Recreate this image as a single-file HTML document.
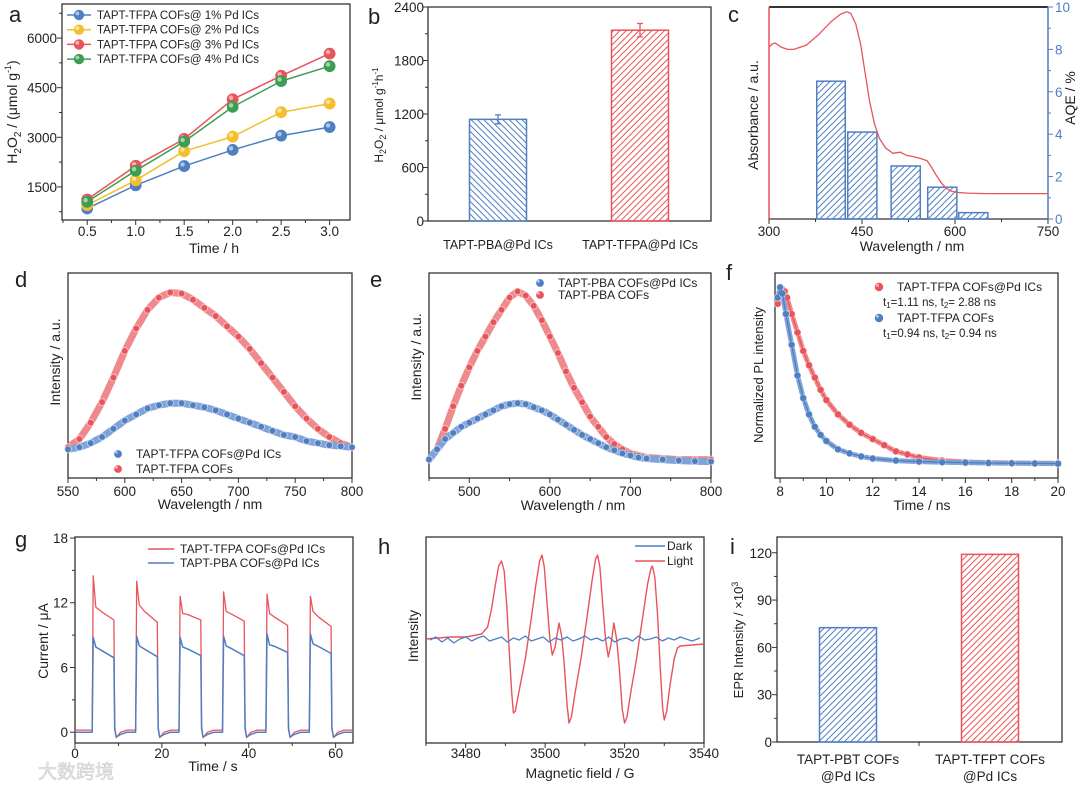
<!DOCTYPE html>
<html><head><meta charset="utf-8">
<style>
html,body{margin:0;padding:0;background:#fff;}
svg{display:block;font-family:"Liberation Sans","Noto Sans CJK SC",sans-serif;}
</style></head>
<body>
<svg id="fig" width="1080" height="786" viewBox="0 0 1080 786" xmlns="http://www.w3.org/2000/svg">
<defs>
<pattern id="hbR" width="4.5" height="4.5" patternUnits="userSpaceOnUse" patternTransform="rotate(45)"><line x1="1" y1="0" x2="1" y2="4.5" stroke="#4f7fc2" stroke-width="1"/></pattern>
<pattern id="hbL" width="4.5" height="4.5" patternUnits="userSpaceOnUse" patternTransform="rotate(-45)"><line x1="1" y1="0" x2="1" y2="4.5" stroke="#4f7fc2" stroke-width="1"/></pattern>
<pattern id="hrR" width="4.5" height="4.5" patternUnits="userSpaceOnUse" patternTransform="rotate(45)"><line x1="1" y1="0" x2="1" y2="4.5" stroke="#e8545a" stroke-width="1"/></pattern>
</defs>
<rect width="1080" height="786" fill="#fff"/>

<g fill="#222" font-size="14">
<text x="9" y="22" font-size="22">a</text>
<text transform="translate(17,112) rotate(-90)" text-anchor="middle">H<tspan font-size="10" dy="4">2</tspan><tspan dy="-4">O</tspan><tspan font-size="10" dy="4">2</tspan><tspan dy="-4"> / (μmol g</tspan><tspan font-size="9" dy="-6">-1</tspan><tspan dy="6">)</tspan></text>
<text x="214" y="253" text-anchor="middle">Time / h</text>

<text x="368" y="24" font-size="22">b</text>
<text transform="translate(383,115) rotate(-90)" text-anchor="middle" font-size="12">H<tspan font-size="9" dy="3">2</tspan><tspan dy="-3">O</tspan><tspan font-size="9" dy="3">2</tspan><tspan dy="-3"> / μmol g</tspan><tspan font-size="8" dy="-5">-1</tspan><tspan dy="5">h</tspan><tspan font-size="8" dy="-5">-1</tspan></text>
<text x="498" y="249" text-anchor="middle" font-size="12.5">TAPT-PBA@Pd ICs</text>
<text x="640" y="249" text-anchor="middle" font-size="12.5">TAPT-TFPA@Pd ICs</text>

<text x="728" y="22" font-size="22">c</text>
<text transform="translate(758,115) rotate(-90)" text-anchor="middle">Absorbance / a.u.</text>
<text transform="translate(1075,98) rotate(-90)" text-anchor="middle">AQE / %</text>
<text x="912" y="251" text-anchor="middle">Wavelength / nm</text>

<text x="15" y="287" font-size="22">d</text>
<text transform="translate(60,362) rotate(-90)" text-anchor="middle">Intensity  / a.u.</text>
<text x="210" y="509" text-anchor="middle">Wavelength / nm</text>
<text x="136" y="458" font-size="12">TAPT-TFPA COFs@Pd ICs</text>
<text x="136" y="473" font-size="12">TAPT-TFPA COFs</text>

<text x="370" y="287" font-size="22">e</text>
<text transform="translate(421,357) rotate(-90)" text-anchor="middle">Intensity  / a.u.</text>
<text x="573" y="510" text-anchor="middle">Wavelength / nm</text>
<text x="558" y="287" font-size="12">TAPT-PBA COFs@Pd ICs</text>
<text x="558" y="299" font-size="12">TAPT-PBA COFs</text>

<text x="726" y="280" font-size="22">f</text>
<text transform="translate(763,375) rotate(-90)" text-anchor="middle" font-size="13">Normalized PL intensity</text>
<text x="922" y="510" text-anchor="middle">Time / ns</text>
<text x="897" y="291" font-size="12">TAPT-TFPA COFs@Pd ICs</text>
<text x="883" y="306" font-size="11.5">t<tspan font-size="8" dy="2">1</tspan><tspan dy="-2">=1.11 ns, t</tspan><tspan font-size="8" dy="2">2</tspan><tspan dy="-2">= 2.88 ns</tspan></text>
<text x="897" y="322" font-size="12">TAPT-TFPA COFs</text>
<text x="883" y="337" font-size="11.5">t<tspan font-size="8" dy="2">1</tspan><tspan dy="-2">=0.94 ns, t</tspan><tspan font-size="8" dy="2">2</tspan><tspan dy="-2">= 0.94 ns</tspan></text>

<text x="15" y="547" font-size="22">g</text>
<text transform="translate(48,641) rotate(-90)" text-anchor="middle">Current / μA</text>
<text x="213" y="771" text-anchor="middle">Time / s</text>
<text x="180" y="553" font-size="12">TAPT-TFPA COFs@Pd ICs</text>
<text x="180" y="567" font-size="12">TAPT-PBA COFs@Pd ICs</text>

<text x="378" y="554" font-size="22">h</text>
<text transform="translate(418,636) rotate(-90)" text-anchor="middle">Intensity</text>
<text x="580" y="778" text-anchor="middle">Magnetic field / G</text>
<text x="667" y="550" font-size="12">Dark</text>
<text x="667" y="565" font-size="12">Light</text>

<text x="730" y="554" font-size="22">i</text>
<text transform="translate(743,640) rotate(-90)" text-anchor="middle" font-size="13">EPR Intensity / ×10<tspan font-size="9" dy="-5">3</tspan></text>
<text x="848" y="764" text-anchor="middle" font-size="13.5">TAPT-PBT COFs</text>
<text x="848" y="781" text-anchor="middle" font-size="13.5">@Pd ICs</text>
<text x="990" y="764" text-anchor="middle" font-size="13.5">TAPT-TFPT COFs</text>
<text x="990" y="781" text-anchor="middle" font-size="13.5">@Pd ICs</text>
</g>
<text x="38" y="778" font-size="19" fill="#e4e4e4" stroke="#cfcfcf" stroke-width="0.6">大数跨境</text>

<script>
const aTime=[0.5,1.0,1.5,2.0,2.5,3.0];
const a1pct=[850,1550,2130,2620,3050,3310];
const a2pct=[950,1700,2580,3020,3760,4020];
const a3pct=[1120,2140,2950,4150,4860,5530];
const a4pct=[1050,1990,2870,3920,4700,5150];
const aYTicks=[1500,3000,4500,6000];
const aXTicks=[0.5,1.0,1.5,2.0,2.5,3.0];

const bCats=['TAPT-PBA@Pd ICs','TAPT-TFPA@Pd ICs'];
const bVals=[1140,2140];
const bErr=[50,75];
const bYTicks=[0,600,1200,1800,2400];

const cBarLo=[377,427,497,556,606];
const cBarHi=[423,474,544,603,653];
const cAQE=[6.5,4.1,2.5,1.5,0.3];
const cAbsWl=[300,305,310,320,330,340,360,380,400,415,425,432,440,448,455,462,470,478,488,500,512,522,532,545,555,562,570,578,586,595,605,620,650,700,750];
const cAbsVal=[8.1,8.25,8.3,8.1,8.0,8.0,8.2,8.7,9.3,9.65,9.78,9.7,9.2,8.2,6.9,5.6,4.5,3.8,3.35,3.1,3.15,3.0,2.95,2.85,2.75,2.45,2.05,1.7,1.45,1.3,1.25,1.22,1.2,1.2,1.2];
const cXTicks=[300,450,600,750];
const cYTicks=[0,2,4,6,8,10];

const dWl=[550,560,570,580,590,600,610,620,630,640,650,660,670,680,690,700,710,720,730,740,750,760,770,780,790,800];
const dCof=[0.15,0.19,0.27,0.37,0.49,0.62,0.73,0.82,0.88,0.905,0.9,0.87,0.83,0.79,0.74,0.69,0.63,0.56,0.49,0.42,0.35,0.29,0.24,0.2,0.17,0.15];
const dPd=[0.14,0.15,0.17,0.2,0.24,0.28,0.31,0.34,0.355,0.365,0.365,0.355,0.345,0.33,0.31,0.29,0.27,0.25,0.23,0.21,0.2,0.18,0.17,0.16,0.155,0.15];
const dXTicks=[550,600,650,700,750,800];

const eWl=[450,460,470,480,490,500,510,520,530,540,550,560,570,580,590,600,610,620,630,640,650,660,670,680,690,700,710,720,740,760,780,800];
const eCof=[0.09,0.14,0.24,0.35,0.45,0.54,0.62,0.69,0.76,0.82,0.88,0.91,0.89,0.84,0.77,0.69,0.61,0.52,0.44,0.37,0.3,0.25,0.2,0.165,0.14,0.12,0.11,0.1,0.095,0.09,0.09,0.09];
const ePd=[0.09,0.14,0.19,0.22,0.25,0.27,0.29,0.31,0.33,0.35,0.36,0.365,0.36,0.345,0.33,0.31,0.285,0.26,0.235,0.21,0.19,0.17,0.15,0.135,0.12,0.11,0.1,0.095,0.09,0.085,0.082,0.08];
const eXTicks=[500,600,700,800];

const fTimePd=[7.9,8.0,8.1,8.2,8.3,8.5,8.75,9,9.25,9.5,9.75,10,10.5,11,11.5,12,12.5,13,13.5,14,15,16,17,18,19,20];
const fPd=[0.85,0.9,0.92,0.91,0.88,0.8,0.71,0.62,0.55,0.49,0.43,0.38,0.31,0.26,0.22,0.19,0.16,0.13,0.115,0.1,0.085,0.078,0.075,0.073,0.072,0.072];
const fTimeCof=[7.9,8.0,8.1,8.25,8.5,8.75,9,9.25,9.5,9.75,10,10.5,11,11.5,12,13,14,15,16,17,18,19,20];
const fCof=[0.88,0.93,0.9,0.8,0.65,0.5,0.39,0.31,0.25,0.21,0.18,0.14,0.12,0.105,0.095,0.085,0.08,0.077,0.075,0.073,0.072,0.071,0.07];
const fXTicks=[8,10,12,14,16,18,20];

const gOn=[4,14,24,34,44,54];
const gOff=[9,19,29,39,49,59];
const gRedPeak=[14.5,14.0,12.6,13.0,12.8,12.6];
const gRedMid=[11.6,11.8,11.0,11.2,11.0,11.2];
const gRedEnd=[10.4,10.2,10.4,10.3,9.9,9.8];
const gBluePeak=[8.8,8.9,8.8,8.9,9.1,9.1];
const gBlueMid=[7.9,8.0,7.9,8.0,8.1,8.2];
const gBlueEnd=[6.9,7.0,7.1,7.1,7.4,7.3];
const gYTicks=[0,6,12,18];
const gXTicks=[0,20,40,60];

const hFieldLight=[3470,3476,3480,3484,3485.5,3486.5,3487.5,3488.3,3489,3489.7,3490.4,3491,3491.6,3492,3492.5,3493.3,3495,3496.5,3497.7,3498.6,3499.2,3499.8,3500.5,3501.2,3501.8,3502.5,3503.5,3504.2,3504.8,3505.5,3506,3506.6,3507.5,3509,3510.5,3511.8,3512.7,3513.2,3513.8,3514.5,3515.2,3515.9,3516.6,3517.3,3518,3518.7,3519.4,3520,3520.6,3521.5,3523,3524.5,3525.8,3526.6,3527,3527.6,3528.3,3529,3529.6,3530,3530.6,3531.5,3532.5,3533.3,3534,3540];
const hLight=[0,2,2,5,12,30,55,73,78,68,30,-15,-55,-74,-72,-55,-20,20,55,78,84,72,35,0,-16,-8,16,2,-25,-65,-84,-78,-55,-20,20,58,80,84,72,35,0,-18,-5,16,0,-30,-70,-84,-78,-55,-20,20,55,70,73,62,25,-30,-70,-81,-72,-45,-20,-9,-7,-5];
const hFieldDark=[3471,3472.5,3474,3475.5,3477,3478.5,3480,3481.5,3483,3484.5,3486,3487.5,3489,3490.5,3492,3493.5,3495,3496.5,3498,3499.5,3501,3502.5,3504,3505.5,3507,3508.5,3510,3511.5,3513,3514.5,3516,3517.5,3519,3520.5,3522,3523.5,3525,3526.5,3528,3529.5,3531,3532.5,3534,3535.5,3537,3539];
const hDark=[-1,2,-3,1,-4,0,2,-2,1,3,-2,0,2,-3,1,-1,3,-2,0,2,-3,1,-1,2,-2,0,3,-1,1,-2,2,-3,0,1,-2,3,-1,0,2,-2,1,-1,2,0,-2,1];
const hXTicks=[3480,3500,3520,3540];

const iCats=['TAPT-PBT COFs @Pd ICs','TAPT-TFPT COFs @Pd ICs'];
const iVals=[72.5,119];
const iYTicks=[0,30,60,90,120];

const NS='http://www.w3.org/2000/svg';
const svg=document.getElementById('fig');
const BLUE='#4f7fc2', RED='#e8545a', YEL='#f4bf2e', GRN='#3c9e52', INK='#333';
function lin(d0,d1,r0,r1){return v=>r0+(v-d0)*(r1-r0)/(d1-d0);}
function mk(tag,attrs){const e=document.createElementNS(NS,tag);for(const k in attrs)e.setAttribute(k,attrs[k]);svg.appendChild(e);return e;}
function txt(x,y,s,anchor,color,size){const t=mk('text',{x:x,y:y,'text-anchor':anchor,fill:color||'#222','font-size':size||13.5});t.textContent=s;return t;}
function frame(x0,y0,x1,y1,name){
  const r=mk('rect',{x:x0,y:y0,width:x1-x0,height:y1-y0,fill:'none',stroke:INK,'stroke-width':1.3});
  
  
}
function xTicks(vals,sx,y,len,labs,labY,name,color){
  vals.forEach((v,i)=>{
    const l=mk('line',{x1:sx(v),x2:sx(v),y1:y,y2:y+len,stroke:color||INK,'stroke-width':1});
    
    
    if(labs){const t=txt(sx(v),labY,labs[i],'middle');
      
      }
  });
}
function yTicks(vals,sy,x,len,labs,labX,anchor,name,color){
  vals.forEach((v,i)=>{
    const l=mk('line',{x1:x,x2:x+len,y1:sy(v),y2:sy(v),stroke:color||INK,'stroke-width':1});
    
    
    if(labs){const t=txt(labX,sy(v)+5,labs[i],anchor,color);
      
      }
  });
}
function pathD(xs,ys,sx,sy){return xs.map((x,i)=>(i?'L':'M')+sx(x).toFixed(1)+','+sy(ys[i]).toFixed(1)).join(' ');}
function line(xs,ys,sx,sy,color,w,name){
  const p=mk('path',{d:pathD(xs,ys,sx,sy),fill:'none',stroke:color,'stroke-width':w,'stroke-linejoin':'round'});
  
  
  return p;
}
function dots(xs,ys,sx,sy,color,r,name){
  xs.forEach((x,i)=>{
    const c=mk('circle',{cx:sx(x),cy:sy(ys[i]),r:r,fill:color,stroke:'#fff','stroke-opacity':0.55,'stroke-width':1});
    
    
  });
}
function ball(x,y,color,r,name){
  const c=mk('circle',{cx:x,cy:y,r:r,fill:color,stroke:color,'stroke-width':0.8});
  
  
  const h=mk('circle',{cx:x-1.6,cy:y-1.6,r:r*0.4,fill:'#fff','fill-opacity':0.55});
  
  
}
function range(a,b,s){const o=[];for(let v=a;v<=b+1e-9;v+=s)o.push(+v.toFixed(4));return o;}

(function(){
  const sx=lin(0.24,3.21,62,350), sy=lin(500,7030,220,4);
  frame(62,4,350,220,'a-plot-frame');
  yTicks(aYTicks,sy,62,-5,aYTicks.map(String),57,'end','a-y-axis');
  yTicks(range(750,6750,750).filter(v=>v%1500),sy,62,-3,null,0,'end','a-y-minor');
  xTicks(aXTicks,sx,220,5,aXTicks.map(v=>v.toFixed(1)),236,'a-x-axis');
  xTicks(range(0.25,3.0,0.5),sx,220,3,null,0,'a-x-minor');
  const series=[[a1pct,BLUE,'a-series-1pct'],[a2pct,YEL,'a-series-2pct'],[a3pct,RED,'a-series-3pct'],[a4pct,GRN,'a-series-4pct']];
  series.forEach(s=>line(aTime,s[0],sx,sy,s[1],1.5,s[2]+'-line'));
  series.forEach(s=>aTime.forEach((t,i)=>ball(sx(t),sy(s[0][i]),s[1],5.5,s[2]+'-point')));
  const names=['TAPT-TFPA COFs@ 1% Pd ICs','TAPT-TFPA COFs@ 2% Pd ICs','TAPT-TFPA COFs@ 3% Pd ICs','TAPT-TFPA COFs@ 4% Pd ICs'];
  series.forEach((s,i)=>{
    const y=15+i*14.7;
    const l=mk('line',{x1:67,x2:91,y1:y,y2:y,stroke:s[1],'stroke-width':1.5});
    
    
    ball(79,y,s[1],4.8,'a-legend-marker');
    const t=txt(97,y+4,names[i],'start','#222',11.5);
    
    
  });
})();

(function(){
  const sy=lin(0,2400,221,7);
  const cx=[498,640], w=57;
  frame(428,7,711,221,'b-plot-frame');
  yTicks(bYTicks,sy,428,-5,bYTicks.map(String),424,'end','b-y-axis');
  yTicks(range(300,2100,600),sy,428,-3,null,0,'end','b-y-minor');
  const fills=['url(#hbL)','url(#hrR)'], cols=[BLUE,RED];
  bVals.forEach((v,i)=>{
    const r=mk('rect',{x:cx[i]-w/2,y:sy(v),width:w,height:sy(0)-sy(v),fill:fills[i],stroke:cols[i],'stroke-width':1.5});
    
    
    const e=mk('path',{d:`M${cx[i]},${sy(v-bErr[i])} V${sy(v+bErr[i])} M${cx[i]-3},${sy(v-bErr[i])} h6 M${cx[i]-3},${sy(v+bErr[i])} h6`,stroke:cols[i],'stroke-width':1.3,fill:'none'});
    
    
  });
})();

(function(){
  const sx=lin(300,750,769,1048), sy=lin(0,10,219,7);
  const top=mk('line',{x1:769,x2:1048,y1:7,y2:7,stroke:INK,'stroke-width':2});
  
  
  const bot=mk('line',{x1:769,x2:1048,y1:219,y2:219,stroke:INK,'stroke-width':1.3});
  
  
  const lft=mk('line',{x1:769,x2:769,y1:7,y2:219,stroke:RED,'stroke-width':1.5});
  
  
  const rgt=mk('line',{x1:1048,x2:1048,y1:7,y2:219,stroke:BLUE,'stroke-width':1.5});
  
  
  xTicks(cXTicks,sx,219,5,cXTicks.map(String),236,'c-x-axis');
  xTicks([375,525,675],sx,219,3,null,0,'c-x-minor');
  yTicks(cYTicks,sy,1048,5,cYTicks.map(String),1055,'start','c-right-axis',BLUE);
  yTicks(range(1,9,2),sy,1048,3,null,0,'start','c-right-minor',BLUE);
  cAQE.forEach((v,i)=>{
    const r=mk('rect',{x:sx(cBarLo[i]),y:sy(v),width:sx(cBarHi[i])-sx(cBarLo[i]),height:sy(0)-sy(v),fill:'url(#hbR)',stroke:BLUE,'stroke-width':1.5});
    
    
  });
  line(cAbsWl,cAbsVal,sx,sy,RED,1.3,'c-absorbance-curve');
})();

(function(){
  const sx=lin(550,800,68,352), sy=lin(0,1,478,273);
  frame(68,273,352,478,'d-plot-frame');
  xTicks(dXTicks,sx,478,5,dXTicks.map(String),496,'d-x-axis');
  xTicks(range(575,775,50),sx,478,3,null,0,'d-x-minor');
  line(dWl,dCof,sx,sy,'#ee8a8d',7,'d-band-cof');
  dots(dWl,dCof,sx,sy,RED,3.4,'d-point-cof');
  line(dWl,dPd,sx,sy,'#7fa3d6',7,'d-band-pd');
  dots(dWl,dPd,sx,sy,BLUE,3.4,'d-point-pd');
  ball(118,454,BLUE,3.5,'d-legend-marker-pd');
  ball(118,469,RED,3.5,'d-legend-marker-cof');
})();

(function(){
  const sx=lin(450,800,429,711), sy=lin(0,1,478,273);
  frame(429,273,711,478,'e-plot-frame');
  xTicks(eXTicks,sx,478,5,eXTicks.map(String),496,'e-x-axis');
  xTicks(range(450,750,100),sx,478,3,null,0,'e-x-minor');
  line(eWl,eCof,sx,sy,'#ee8a8d',7,'e-band-cof');
  dots(eWl,eCof,sx,sy,RED,3.4,'e-point-cof');
  line(eWl,ePd,sx,sy,'#7fa3d6',7,'e-band-pd');
  dots(eWl,ePd,sx,sy,BLUE,3.4,'e-point-pd');
  ball(540,283,BLUE,3.5,'e-legend-marker-pd');
  ball(540,295,RED,3.5,'e-legend-marker-cof');
})();

(function(){
  const sx=lin(7.78,20,775,1058), sy=lin(0,1,478,273);
  frame(775,273,1058,478,'f-plot-frame');
  xTicks(fXTicks,sx,478,5,fXTicks.map(String),496,'f-x-axis');
  xTicks(range(9,19,2),sx,478,3,null,0,'f-x-minor');
  line(fTimePd,fPd,sx,sy,'#ee8a8d',5,'f-band-pd');
  dots(fTimePd,fPd,sx,sy,RED,3.6,'f-point-pd');
  line(fTimePd,fPd,sx,sy,RED,1.3,'f-fit-pd');
  line(fTimeCof,fCof,sx,sy,'#7fa3d6',5,'f-band-cof');
  dots(fTimeCof,fCof,sx,sy,BLUE,3.6,'f-point-cof');
  line(fTimeCof,fCof,sx,sy,BLUE,1.3,'f-fit-cof');
  ball(879,287,RED,3.8,'f-legend-marker-pd');
  ball(879,318,BLUE,3.8,'f-legend-marker-cof');
})();

(function(){
  const sx=lin(0,64,75,353), sy=lin(-1,18,743,538);
  frame(75,537,353,743,'g-plot-frame');
  yTicks(gYTicks,sy,75,-5,gYTicks.map(String),68,'end','g-y-axis');
  yTicks(range(3,15,6),sy,75,-3,null,0,'end','g-y-minor');
  xTicks(gXTicks,sx,743,5,gXTicks.map(String),758,'g-x-axis');
  xTicks(range(10,50,20),sx,743,3,null,0,'g-x-minor');
  function build(peak,mid,end,dark,dip){
    const t=[0],v=[dark];
    gOn.forEach((on,k)=>{
      const off=gOff[k];
      t.push(on-0.05,on+0.2,on+0.8,on+2,off-0.05,off+0.15,off+0.5,off+1.5,off+3);
      v.push(dark,peak[k],mid[k],(mid[k]+end[k])/2+0.2,end[k],dark+0.3,dip,dark-0.2,dark);
    });
    t.push(64);v.push(dark);
    return [t,v];
  }
  const red=build(gRedPeak,gRedMid,gRedEnd,0.2,-0.5);
  const blue=build(gBluePeak,gBlueMid,gBlueEnd,0.0,-0.45);
  line(red[0],red[1],sx,sy,RED,1.3,'g-series-tfpa');
  line(blue[0],blue[1],sx,sy,BLUE,1.5,'g-series-pba');
  const l1=mk('line',{x1:148,x2:174,y1:549,y2:549,stroke:RED,'stroke-width':1.5});
  
  
  const l2=mk('line',{x1:148,x2:174,y1:563,y2:563,stroke:BLUE,'stroke-width':1.5});
  
  
})();

(function(){
  const sx=lin(3470,3540,426,704), sy=lin(-104,102,743,537);
  frame(426,537,704,743,'h-plot-frame');
  xTicks(hXTicks,sx,743,5,hXTicks.map(String),758,'h-x-axis');
  xTicks(range(3470,3530,20),sx,743,3,null,0,'h-x-minor');
  line(hFieldLight,hLight,sx,sy,RED,1.4,'h-series-light');
  line(hFieldDark,hDark,sx,sy,BLUE,1.3,'h-series-dark');
  const l1=mk('line',{x1:635,x2:665,y1:546,y2:546,stroke:BLUE,'stroke-width':1.5});
  
  
  const l2=mk('line',{x1:635,x2:665,y1:561,y2:561,stroke:RED,'stroke-width':1.5});
  
  
})();

(function(){
  const sy=lin(0,130,742,537);
  const cx=[848,990], w=57;
  frame(777,537,1062,742,'i-plot-frame');
  yTicks(iYTicks,sy,777,-5,iYTicks.map(String),772,'end','i-y-axis');
  yTicks(range(15,105,30),sy,777,-3,null,0,'end','i-y-minor');
  xTicks([919],v=>v,742,4,null,0,'i-x-mid');
  const fills=['url(#hbR)','url(#hrR)'], cols=[BLUE,RED];
  iVals.forEach((v,i)=>{
    const r=mk('rect',{x:cx[i]-w/2,y:sy(v),width:w,height:sy(0)-sy(v),fill:fills[i],stroke:cols[i],'stroke-width':1.5});
    
    
  });
})();
</script>
</svg>
</body></html>
